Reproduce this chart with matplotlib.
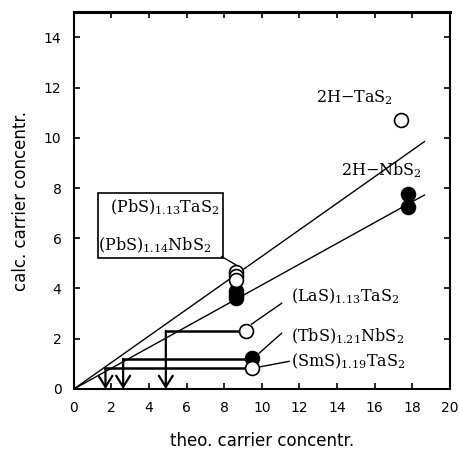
import matplotlib
matplotlib.use("Agg")
import matplotlib.pyplot as plt
from matplotlib.patches import Rectangle

plt.rcParams['font.family'] = 'DejaVu Sans'
plt.rcParams['mathtext.fontset'] = 'dejavuserif'

# open circles (TaS2 compounds)
open_x = [17.4, 8.65, 8.65, 8.65, 9.15, 9.5]
open_y = [10.7, 4.65, 4.5, 4.35, 2.31, 0.84]
# filled circles (NbS2 compounds)
filled_x = [17.75, 17.75, 8.65, 8.65, 8.65, 9.5]
filled_y = [7.75, 7.25, 3.9, 3.76, 3.62, 1.22]

# the two reference lines through the origin
line_slopes = [0.528, 0.414]
line_xmax = 18.65

# step lines: (point x, point y, arrow x)
step_px = [9.15, 9.5, 9.5]
step_py = [2.31, 1.2, 0.83]
step_ax = [4.89, 2.62, 1.68]

# labels with leader lines
labels = [r'(LaS)$_{1.13}$TaS$_2$', r'(TbS)$_{1.21}$NbS$_2$', r'(SmS)$_{1.19}$TaS$_2$']
label_x = [11.55, 11.55, 11.55]
label_y = [3.7, 2.1, 1.1]
lead_start = [(9.45, 2.58), (9.85, 1.42), (9.75, 0.86)]
lead_end = [(11.05, 3.41), (11.05, 2.22), (11.45, 1.1)]

fs = 11.5

fig = plt.figure(figsize=(4.59, 4.5), dpi=100)
ax = fig.add_axes([0.161, 0.1356, 0.819, 0.8374])

for s in line_slopes:
    ax.plot([0, line_xmax], [0, s * line_xmax], color='black', lw=1.0, zorder=2)

for px, py, axx in zip(step_px, step_py, step_ax):
    ax.plot([px, axx], [py, py], color='black', lw=1.8, zorder=2)
    ax.annotate('', xy=(axx, 0), xytext=(axx, py),
                arrowprops=dict(arrowstyle='->,head_length=0.4,head_width=0.25',
                                color='black', lw=1.6, shrinkA=0, shrinkB=0,
                                mutation_scale=20), zorder=2)

for (x0, y0), (x1, y1) in zip(lead_start, lead_end):
    ax.plot([x0, x1], [y0, y1], color='black', lw=1.0, zorder=2)

ax.plot(filled_x, filled_y, 'o', ms=10, mfc='black', mec='black', mew=1.2, zorder=3)
ax.plot(open_x, open_y, 'o', ms=10, mfc='white', mec='black', mew=1.2, zorder=4)

for t, x, y in zip(labels, label_x, label_y):
    ax.text(x, y, t, family='DejaVu Serif', fontsize=fs, va='center', ha='left')

ax.text(12.9, 11.6, r'2H$-$TaS$_2$', family='DejaVu Serif', fontsize=fs, va='center')
ax.text(14.2, 8.7, r'2H$-$NbS$_2$', family='DejaVu Serif', fontsize=fs, va='center')

# PbS box
ax.add_patch(Rectangle((1.29, 5.21), 6.62, 2.61, fill=False, ec='black', lw=1.2, zorder=2))
ax.text(4.85, 7.25, r'(PbS)$_{1.13}$TaS$_2$', family='DejaVu Serif', fontsize=fs,
        va='center', ha='center')
ax.text(1.3, 5.7, r'(PbS)$_{1.14}$NbS$_2$', family='DejaVu Serif', fontsize=fs,
        va='center', ha='left')
ax.plot([7.86, 8.6], [5.27, 4.95], color='black', lw=1.0)

ax.set_xlim(0, 20)
ax.set_ylim(0, 15)
ax.set_xticks(range(0, 21, 2))
ax.set_yticks(range(0, 15, 2))
ax.tick_params(direction='in', top=True, right=True, length=4, width=1.2,
               labelsize=10, pad=9)
for side in ['left', 'right', 'bottom']:
    ax.spines[side].set_linewidth(1.5)
ax.spines['top'].set_linewidth(2.2)

ax.set_xlabel('theo. carrier concentr.', fontsize=12, labelpad=12)
ax.set_ylabel('calc. carrier concentr.', fontsize=12, labelpad=10)

fig.savefig('out.png', dpi=100)
